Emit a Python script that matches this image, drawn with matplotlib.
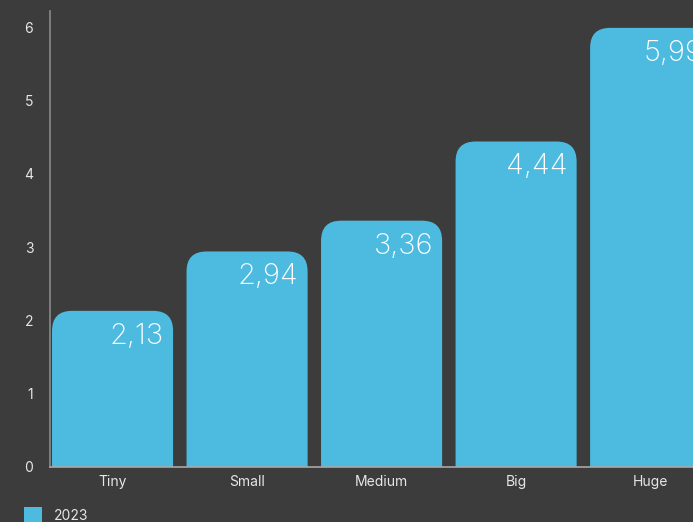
import matplotlib
matplotlib.use("Agg")
import matplotlib.pyplot as plt
from matplotlib.path import Path
from matplotlib.patches import PathPatch, Rectangle

categories = ["Tiny", "Small", "Medium", "Big", "Huge"]
values = [2.13, 2.94, 3.36, 4.44, 5.99]
series_name = "2023"
yticks = [0, 1, 2, 3, 4, 5, 6]

BG = "#3c3c3c"
BAR = "#4dbbdf"
TXT = "#e6e6e6"
FONT = ["Inter", "DejaVu Sans"]

W, H = 693, 522
fig = plt.figure(figsize=(W / 100, H / 100), dpi=100, facecolor=BG)
ax = fig.add_axes([50 / W, 55 / H, 643 / W, 456 / H], facecolor=BG)

x_left, x_right = -0.465, 4.315
y_top = 6.22
ax.set_xlim(x_left, x_right)
ax.set_ylim(0, y_top)

px_x = (x_right - x_left) / 643.0
px_y = y_top / 456.0
rad_px = 20
width = 0.9


def rounded_top_bar(xc, h):
    x0, x1 = xc - width / 2, xc + width / 2
    rx, ry = rad_px * px_x, rad_px * px_y
    verts = [
        (x0, 0), (x0, h - ry), (x0, h), (x0 + rx, h),
        (x1 - rx, h), (x1, h), (x1, h - ry), (x1, 0), (x0, 0),
    ]
    codes = [Path.MOVETO, Path.LINETO, Path.CURVE3, Path.CURVE3,
             Path.LINETO, Path.CURVE3, Path.CURVE3, Path.LINETO, Path.CLOSEPOLY]
    return Path(verts, codes)


for i, v in enumerate(values):
    patch = PathPatch(rounded_top_bar(i, v), facecolor=BAR, edgecolor="none", zorder=2)
    ax.add_patch(patch)
    ax.text(i + width / 2 - 9 * px_x, v - 12 * px_y, f"{v:.2f}".replace(".", ","),
            ha="right", va="top", fontsize=21, color="white",
            family=FONT, fontweight="light", zorder=3, clip_on=True)

ax.set_xticks(range(len(categories)))
ax.set_xticklabels(categories)
ax.set_yticks(yticks)
ax.set_yticklabels([str(t) for t in yticks])
ax.tick_params(axis="both", length=0, colors=TXT, labelsize=10)
ax.tick_params(axis="y", pad=12)
ax.tick_params(axis="x", pad=6)
for lbl in ax.get_xticklabels() + ax.get_yticklabels():
    lbl.set_family(FONT)

for s in ["top", "right"]:
    ax.spines[s].set_visible(False)
ax.spines["left"].set_color("#8a8a8a")
ax.spines["bottom"].set_color("#a8a8a8")
ax.spines["left"].set_linewidth(1.2)
ax.spines["bottom"].set_linewidth(1.2)

# legend entry at the bottom left
fig.patches.append(Rectangle((24 / W, -4 / H), 18 / W, 19 / H, transform=fig.transFigure,
                             facecolor=BAR, edgecolor="none"))
fig.text(54 / W, 6 / H, series_name, ha="left", va="center", fontsize=10,
         color=TXT, family=FONT)

fig.savefig("out.png", dpi=100, facecolor=BG)
